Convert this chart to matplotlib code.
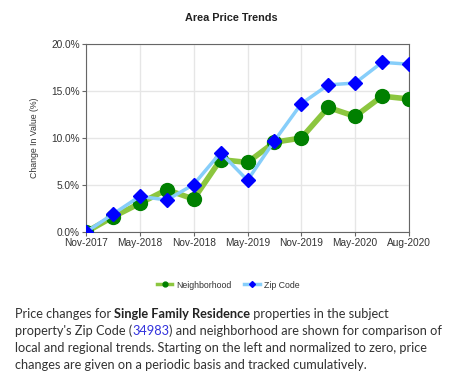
import matplotlib
matplotlib.use("Agg")
import matplotlib.pyplot as plt
from matplotlib.lines import Line2D

# quarterly points, Nov-2017 .. Aug-2020
tick_labels = ["Nov-2017", "May-2018", "Nov-2018", "May-2019", "Nov-2019", "May-2020", "Aug-2020"]
tick_pos = [0, 2, 4, 6, 8, 10, 12]
neighborhood = [0.0, 1.6, 3.05, 4.5, 3.5, 7.7, 7.4, 9.55, 10.0, 13.25, 12.3, 14.45, 14.15]
zip_code = [0.0, 1.9, 3.8, 3.4, 5.05, 8.45, 5.5, 9.7, 13.65, 15.65, 15.85, 18.05, 17.85]
x = list(range(len(neighborhood)))

plt.rcParams['font.family'] = ['Liberation Sans', 'DejaVu Sans']

fig = plt.figure(figsize=(4.56, 3.85), dpi=100)
ax = fig.add_axes([86 / 456, 1 - 232 / 385, (409 - 86) / 456, (232 - 44) / 385])

ax.plot(x, neighborhood, color='#8cc63f', lw=4, marker='o', ms=10,
        mfc='#008000', mec='#008000', zorder=3, solid_capstyle='round')
ax.plot(x, zip_code, color='#87cefa', lw=2.5, marker='D', ms=7,
        mfc='#0000ff', mec='#0000ff', zorder=4)

ax.set_xlim(0, 12)
ax.set_ylim(0, 20)
ax.set_xticks(tick_pos)
ax.set_xticklabels(tick_labels, fontsize=7.3, color='#333333')
ax.set_yticks([0, 5, 10, 15, 20])
ax.set_yticklabels(["0.0%", "5.0%", "10.0%", "15.0%", "20.0%"], fontsize=7.3, color='#333333')
ax.grid(True, color='#e6e6e6', lw=1)
ax.set_axisbelow(True)
for s in ax.spines.values():
    s.set_color('#666666')
ax.tick_params(length=3, color='#666666', pad=1.5)
ax.set_ylabel("Change In Value (%)", fontsize=6.3, color='#333333')
ax.yaxis.set_label_coords(-0.145, 0.5)

fig.text(231 / 456, 1 - 18 / 385, "Area Price Trends", ha='center', va='center',
         fontsize=7.8, fontweight='bold', color='#222222')

handles = [
    Line2D([], [], color='#8cc63f', lw=2.5, marker='o', ms=3.5, mfc='#008000', mec='#008000'),
    Line2D([], [], color='#87cefa', lw=2.5, marker='D', ms=3, mfc='#0000ff', mec='#0000ff'),
]
fig.legend(handles, ["Neighborhood", "Zip Code"], loc='center', bbox_to_anchor=(0.50, 1 - 285 / 385),
           ncol=2, frameon=False, fontsize=6.3, handlelength=1.8, columnspacing=1.5,
           handletextpad=0.4, labelcolor='#333333')

# paragraph with mixed styles
lines = [
    [("Price changes for ", 'normal', '#333333'), ("Single Family Residence", 'bold', '#222222'),
     (" properties in the subject", 'normal', '#333333')],
    [("property's Zip Code (", 'normal', '#333333'), ("34983", 'normal', '#3333dd'),
     (") and neighborhood are shown for comparison of", 'normal', '#333333')],
    [("local and regional trends. Starting on the left and normalized to zero, price", 'normal', '#333333')],
    [("changes are given on a periodic basis and tracked cumulatively.", 'normal', '#333333')],
]
fig.canvas.draw()
renderer = fig.canvas.get_renderer()
y0 = 314
for i, parts in enumerate(lines):
    xpx = 15
    ypx = y0 + i * 17
    for txt, weight, col in parts:
        t = fig.text(xpx / 456, 1 - ypx / 385, txt, ha='left', va='center', fontsize=9.2,
                     fontweight=weight, color=col, family=['Lato', 'DejaVu Sans'])
        bb = t.get_window_extent(renderer)
        xpx += bb.width

fig.savefig("out.png", dpi=100)
